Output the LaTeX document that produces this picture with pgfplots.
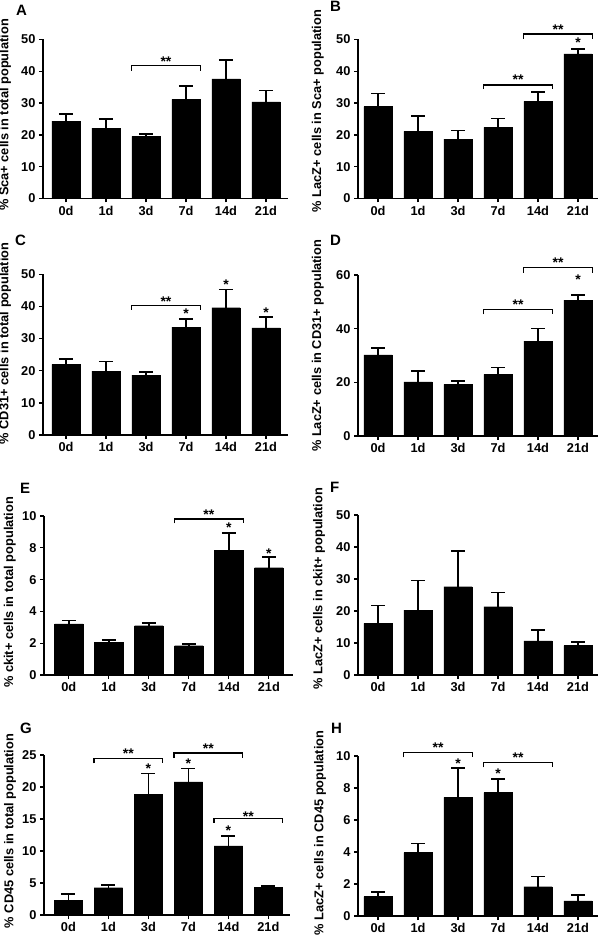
\documentclass[border=0pt]{standalone}
\usepackage{fontspec}
\setmainfont{Liberation Sans}
\usepackage{pgfplots}
\pgfplotsset{compat=1.18}
\pgfplotsset{
  panel/.style={
    scale only axis, height=160pt,
    axis x line*=bottom, axis y line*=left,
    axis line style={-, line width=1.7pt, black},
    tick align=outside, major tick length=4pt,
    tick style={line width=1.3pt, black},
    xtick={0,...,5}, xticklabels={0d,1d,3d,7d,14d,21d},
    ymin=0, clip=false,
    /pgf/number format/assume math mode=true,
    tick label style={font=\fontsize{12.8}{14}\selectfont\bfseries},
    label style={font=\fontsize{12.8}{15}\selectfont\bfseries},
    ylabel style={anchor=center},
  },
  bars/.style={ybar, bar width=0.71, fill=black, draw=black, line width=0.3pt,
    error bars/.cd, y dir=plus, y explicit,
    error bar style={line width=1.7pt, black},
    error mark options={rotate=90, line width=1.7pt, mark size=7pt, black}},
}
\tikzset{sig/.style={font=\fontsize{14}{15}\selectfont\bfseries, inner sep=0pt, yshift=-3pt},
  brk/.style={line width=1.2pt, black}}
\newcommand{\brk}[6]{%
  \draw[brk] (axis cs:#1,#3) |- (axis cs:#2,#4) -- (axis cs:#2,#3);
  \node[sig] at (axis cs:#5,#6) {**};}
\begin{document}
\begin{tikzpicture}
\path[use as bounding box] (0pt,0pt) rectangle (600pt,947pt);
% A
\begin{axis}[panel, at={(43pt,748.5pt)}, anchor=south west, width=245pt, height=159pt,
  xmin=-0.575, xmax=5.55, ymax=50, ytick={0,10,...,50},
  ylabel={\% Sca+ cells in total population},
  ylabel style={at={(axis description cs:-0.155,0.525)}}]
\addplot[bars] coordinates {(0,24.3) +- (0,2.3) (1,22.1) +- (0,2.9) (2,19.5) +- (0,0.8)
  (3,31.2) +- (0,4.2) (4,37.6) +- (0,5.9) (5,30.4) +- (0,3.6)};
\brk{1.64}{3.36}{40.2}{41.8}{2.5}{44.1}
\end{axis}
% B
\begin{axis}[panel, at={(358pt,748.5pt)}, anchor=south west, width=240pt, height=159pt,
  xmin=-0.5, xmax=5.5, ymax=50, ytick={0,10,...,50},
  ylabel={\% LacZ+ cells in Sca+ population},
  ylabel style={at={(axis description cs:-0.167,0.55)}}]
\addplot[bars] coordinates {(0,28.9) +- (0,4.1) (1,21.1) +- (0,4.9) (2,18.7) +- (0,2.7)
  (3,22.4) +- (0,2.8) (4,30.5) +- (0,2.9) (5,45.5) +- (0,1.5)};
\brk{2.64}{4.36}{34.4}{35.7}{3.5}{38.3}
\brk{3.64}{5.36}{50.2}{51.7}{4.5}{54.0}
\node[sig] at (axis cs:5,49.8) {*};
\end{axis}
% C
\begin{axis}[panel, at={(43pt,512pt)}, anchor=south west, width=245pt, height=160.7pt,
  xmin=-0.575, xmax=5.55, ymax=50, ytick={0,10,...,50},
  ylabel={\% CD31+ cells in total population},
  ylabel style={at={(axis description cs:-0.155,0.57)}}]
\addplot[bars] coordinates {(0,22.0) +- (0,1.7) (1,19.9) +- (0,3.0) (2,18.6) +- (0,1.1)
  (3,33.6) +- (0,2.4) (4,39.6) +- (0,5.7) (5,33.3) +- (0,3.5)};
\brk{1.64}{3.36}{38.9}{40.2}{2.5}{42.5}
\node[sig] at (axis cs:3,38.6) {*};
\node[sig] at (axis cs:4,47.7) {*};
\node[sig] at (axis cs:5,39.1) {*};
\end{axis}
% D
\begin{axis}[panel, at={(358pt,511pt)}, anchor=south west, width=240pt, height=161pt,
  xmin=-0.5, xmax=5.5, ymax=60, ytick={0,20,40,60},
  ylabel={\% LacZ+ cells in CD31+ population},
  ylabel style={at={(axis description cs:-0.167,0.56)}}]
\addplot[bars] coordinates {(0,30.2) +- (0,2.7) (1,20.2) +- (0,4.0) (2,19.2) +- (0,1.4)
  (3,23.0) +- (0,2.5) (4,35.4) +- (0,4.7) (5,50.6) +- (0,1.9)};
\brk{2.64}{4.36}{45.3}{47.2}{3.5}{50.0}
\brk{3.64}{5.36}{60.9}{62.7}{4.5}{65.6}
\node[sig] at (axis cs:5,59.4) {*};
\end{axis}
% E
\begin{axis}[panel, at={(44pt,272pt)}, anchor=south west, width=249pt, height=159pt,
  xmin=-0.62, xmax=5.605, ymax=10, ytick={0,2,...,10},
  ylabel={\% ckit+ cells in total population},
  ylabel style={at={(axis description cs:-0.137,0.52)}}]
\addplot[bars] coordinates {(0,3.21) +- (0,0.21) (1,2.05) +- (0,0.15) (2,3.10) +- (0,0.19)
  (3,1.84) +- (0,0.13) (4,7.86) +- (0,1.05) (5,6.75) +- (0,0.65)};
\brk{2.64}{4.36}{9.54}{9.81}{3.5}{10.27}
\node[sig] at (axis cs:4,9.43) {*};
\node[sig] at (axis cs:5,7.82) {*};
\end{axis}
% F
\begin{axis}[panel, at={(358pt,272pt)}, anchor=south west, width=240pt, height=160pt,
  xmin=-0.5, xmax=5.5, ymax=50, ytick={0,10,...,50},
  ylabel={\% LacZ+ cells in ckit+ population},
  ylabel style={at={(axis description cs:-0.162,0.54)}}]
\addplot[bars] coordinates {(0,16.1) +- (0,5.6) (1,20.3) +- (0,9.2) (2,27.6) +- (0,11.15)
  (3,21.35) +- (0,4.45) (4,10.7) +- (0,3.4) (5,9.2) +- (0,1.2)};
\end{axis}
% G
\begin{axis}[panel, at={(44pt,32pt)}, anchor=south west, width=246pt, height=160pt,
  xmin=-0.61, xmax=5.54, ymax=25, ytick={0,5,...,25},
  ylabel={\% CD45 cells in total population},
  ylabel style={at={(axis description cs:-0.138,0.525)}}]
\addplot[bars] coordinates {(0,2.34) +- (0,0.9) (1,4.27) +- (0,0.42) (2,18.9) +- (0,3.2)
  (3,20.8) +- (0,2.1) (4,10.8) +- (0,1.5) (5,4.32) +- (0,0.21)};
\brk{0.64}{2.36}{23.7}{24.5}{1.5}{25.7}
\brk{2.64}{4.36}{24.5}{25.3}{3.5}{26.4}
\brk{3.64}{5.36}{14.4}{15.1}{4.5}{15.9}
\node[sig] at (axis cs:2,23.4) {*};
\node[sig] at (axis cs:3,24.1) {*};
\node[sig] at (axis cs:4,13.6) {*};
\end{axis}
% H
\begin{axis}[panel, at={(358pt,31pt)}, anchor=south west, width=240pt, height=160pt,
  xmin=-0.5, xmax=5.5, ymax=10, ytick={0,2,...,10},
  ylabel={\% LacZ+ cells in CD45 population},
  ylabel style={at={(axis description cs:-0.158,0.52)}}]
\addplot[bars] coordinates {(0,1.21) +- (0,0.27) (1,3.96) +- (0,0.58) (2,7.42) +- (0,1.85)
  (3,7.71) +- (0,0.85) (4,1.83) +- (0,0.63) (5,0.94) +- (0,0.37)};
\brk{0.64}{2.36}{9.92}{10.21}{1.5}{10.69}
\brk{2.64}{4.36}{9.29}{9.58}{3.5}{10.06}
\node[sig] at (axis cs:2,9.69) {*};
\node[sig] at (axis cs:3,9.06) {*};
\end{axis}
\begin{scope}[every node/.style={anchor=north west, inner sep=0pt, font=\fontsize{15}{18}\selectfont\bfseries}]
\node at (16pt,942pt) {A};
\node at (330pt,946pt) {B};
\node at (15pt,712pt) {C};
\node at (330pt,712pt) {D};
\node at (20pt,464pt) {E};
\node at (330pt,465pt) {F};
\node at (20pt,224pt) {G};
\node at (331pt,224pt) {H};
\end{scope}
\end{tikzpicture}
\end{document}
